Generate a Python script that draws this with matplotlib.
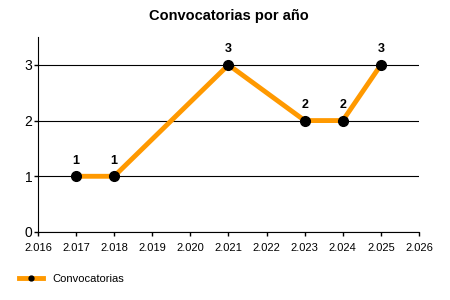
import matplotlib
matplotlib.use("Agg")
import matplotlib.pyplot as plt
from matplotlib.ticker import FuncFormatter

years = [2017, 2018, 2021, 2023, 2024, 2025]
counts = [1, 1, 3, 2, 2, 3]
series_name = "Convocatorias"
title = "Convocatorias por año"

plt.rcParams["font.family"] = ["Liberation Sans", "DejaVu Sans"]

fig = plt.figure(figsize=(4.5, 3.0), dpi=100)
ax = fig.add_axes([0.0844, 0.2267, 0.8467, 0.65])

line, = ax.plot(years, counts, color="#ff9900", lw=3.5, marker="o",
                markersize=7, markerfacecolor="black", markeredgecolor="black",
                solid_joinstyle="miter", zorder=3, label=series_name)
for x, y in zip(years, counts):
    ax.annotate(str(y), (x, y), xytext=(0, 7), textcoords="offset points",
                ha="center", va="bottom", fontsize=9, fontweight="bold")

ax.set_xlim(2016, 2026)
ax.set_ylim(0, 3.5)
ax.set_xticks(range(2016, 2027))
ax.set_yticks([0, 1, 2, 3])
ax.xaxis.set_major_formatter(FuncFormatter(lambda v, p: f"{int(v) // 1000}.{int(v) % 1000:03d}"))
ax.tick_params(axis="x", labelsize=8, length=3, width=1, pad=5)
ax.tick_params(axis="y", labelsize=10, length=3, width=1, pad=1)
ax.yaxis.grid(True, color="black", lw=0.8)
ax.set_axisbelow(True)
for s in ("top", "right"):
    ax.spines[s].set_visible(False)

ax.set_title(title, fontsize=10.5, fontweight="bold", pad=12)

fig.legend(handles=[line], loc="lower left", bbox_to_anchor=(0.02, 0.02),
           frameon=False, fontsize=8, handlelength=2.2, markerscale=0.5)

fig.savefig("out.png", dpi=100)
